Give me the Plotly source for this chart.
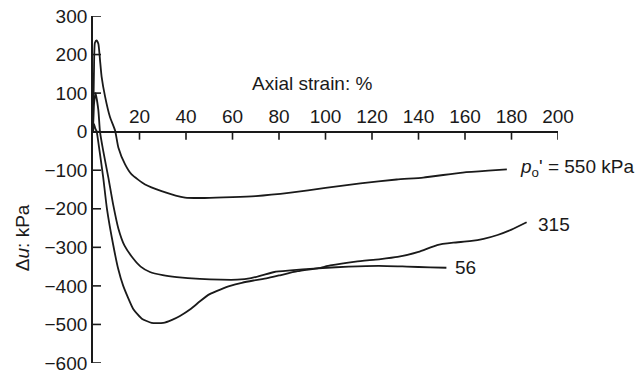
import plotly.graph_objects as go

# Axial strain (%) and excess pore pressure change (kPa) for three tests
strain_550 = [0, 0.4, 0.8, 1.5, 2.3, 3.0, 3.7, 5.2, 7.3, 9.5, 10.9, 13.8, 16.6, 22.4, 29.5,
              39.6, 48, 60, 70, 85, 100, 115, 130.6, 142, 159, 170, 178]
du_550 = [0, 150, 230, 237, 228, 187, 143, 91, 38, 3, -41, -85, -111, -137, -154,
          -171, -172, -170, -167, -158, -146, -134, -124, -119, -106, -101, -98]

strain_315 = [0, 0.4, 1.0, 1.6, 2.6, 4.4, 6.0, 8.7, 10.8, 13, 17.3, 21, 25.2, 30.2, 34,
              37.4, 42, 46, 50, 55, 59, 64, 69, 75, 80, 88, 97, 102, 113, 123, 131, 140,
              148, 155, 162, 168, 174, 180, 186.5]
du_315 = [0, 20, 8, 0, -41, -119, -200, -294, -355, -400, -460, -485, -496, -496, -488,
          -478, -460, -440, -422, -409, -400, -392, -386, -380, -373, -362, -354, -347,
          -337, -331, -325, -312, -294, -288, -284, -278, -268, -254, -235]

strain_56 = [0, 0.4, 1.1, 2.3, 3.0, 4.4, 6.6, 8.7, 10.9, 13.5, 17.3, 20.5, 24.5, 30, 36,
             46, 55, 62, 68, 73, 78, 85, 95, 110, 123, 135, 145, 152]
du_56 = [0, 70, 100, 56, 0, -50, -119, -190, -251, -295, -329, -350, -364, -372, -377,
         -382, -384, -384, -380, -372, -364, -360, -355, -350, -348, -350, -352, -353]

x_ticks = [20, 40, 60, 80, 100, 120, 140, 160, 180, 200]
y_ticks = [-600, -500, -400, -300, -200, -100, 0, 100, 200, 300]

curve_labels = [
    ("<i>p</i><sub>o</sub>' = 550 kPa", 182.8, -93),
    ("315", 190.5, -242),
    ("56", 154.8, -353),
]

FONT = "Liberation Sans, Arial, sans-serif"
INK = "#1a1a1a"
TICK_LEN = 8  # px

fig = go.Figure()
for xs, ys in [(strain_550, du_550), (strain_315, du_315), (strain_56, du_56)]:
    fig.add_trace(go.Scatter(
        x=xs, y=ys, mode="lines",
        line=dict(color=INK, width=1.8, shape="spline", smoothing=0.5),
        showlegend=False, hoverinfo="skip", cliponaxis=False,
    ))

# tick marks: strain ticks hang below the zero line, pressure ticks point right
for v in x_ticks:
    fig.add_shape(type="line", xref="x", yref="y", x0=v, x1=v,
                  ysizemode="pixel", yanchor=0, y0=0, y1=-TICK_LEN,
                  line=dict(color=INK, width=1.6))
for v in y_ticks:
    fig.add_shape(type="line", xref="x", yref="y", y0=v, y1=v,
                  xsizemode="pixel", xanchor=0, x0=0, x1=TICK_LEN,
                  line=dict(color=INK, width=1.6))

for text, x, y in curve_labels:
    fig.add_annotation(x=x, y=y, text=text, showarrow=False, xanchor="left",
                       yanchor="middle", font=dict(family=FONT, size=19, color=INK))

fig.add_annotation(x=94.4, y=124.7, text="Axial strain: %", showarrow=False,
                   xanchor="center", yanchor="middle",
                   font=dict(family=FONT, size=19, color=INK))

fig.add_annotation(xref="paper", yref="y", x=-0.153, y=-274, text="Δ<i>u</i>: kPa",
                   showarrow=False, textangle=-90, xanchor="center", yanchor="middle",
                   font=dict(family=FONT, size=19, color=INK))

fig.update_layout(
    width=643, height=371,
    margin=dict(l=93, r=85, t=16, b=8, autoexpand=False),
    paper_bgcolor="white", plot_bgcolor="white",
    font=dict(family=FONT, size=19, color=INK),
    xaxis=dict(
        range=[0, 200], tickmode="array", tickvals=x_ticks, side="top",
        anchor="free", position=2 / 3, ticks="", automargin=False,
        showline=True, linecolor=INK, linewidth=1.8, showgrid=False, zeroline=False,
        tickfont=dict(family=FONT, size=19, color=INK), ticklabeloverflow="allow",
    ),
    yaxis=dict(
        range=[-600, 300], tickmode="array", tickvals=y_ticks, ticks="",
        automargin=False,
        showline=True, linecolor=INK, linewidth=1.8, showgrid=False,
        zeroline=False, tickfont=dict(family=FONT, size=19, color=INK),
        ticklabeloverflow="allow",
    ),
)

fig.write_html("out.html")
